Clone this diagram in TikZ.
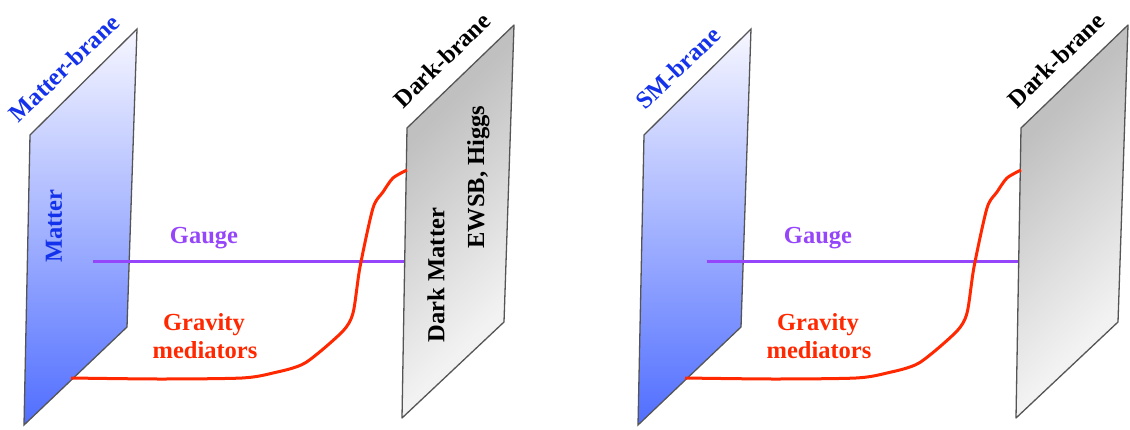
\documentclass[tikz,border=0pt]{standalone}
\usepackage{fontspec}
\setmainfont{Liberation Serif}
\usetikzlibrary{calc}
\definecolor{txtblue}{RGB}{20,50,235}
\definecolor{gaugec}{RGB}{150,70,250}
\definecolor{gravc}{RGB}{255,40,0}
\definecolor{matTop}{RGB}{247,247,255}
\definecolor{matBot}{RGB}{80,110,255}
\definecolor{darkA}{RGB}{192,192,192}
\definecolor{darkB}{RGB}{242,242,242}
\definecolor{edgec}{RGB}{85,85,85}
\pgfdeclareverticalshading{darkshade}{100bp}{color(0bp)=(darkB); color(39bp)=(darkB); color(61bp)=(darkA); color(100bp)=(darkA)}
\tikzset{
  lbl/.style={font=\bfseries\fontsize{24.5}{29}\selectfont, inner sep=0pt},
  matterbrane/.style={top color=matTop, bottom color=matBot, draw=edgec, line width=1.3pt},
  darkfill/.style={shading=darkshade, shading angle=45},
  edge/.style={draw=edgec, line width=1.3pt, line join=round},
  gaugeline/.style={gaugec, line width=3pt},
  gravline/.style={gravc, line width=3pt, line join=round},
}
\begin{document}
\begin{tikzpicture}[x=1pt,y=-1pt]
\useasboundingbox (0,0) rectangle (1130,429);
\foreach \s/\p/\lab/\full in {0/L/Matter-brane/1, 614/R/SM-brane/0}{
\begin{scope}[xshift=\s pt]
  % matter brane
  \coordinate (\p ma) at (30,135);
  \coordinate (\p mb) at (137,29);
  \coordinate (\p mc) at (127,327);
  \coordinate (\p md) at (24,425);
  \path[matterbrane] (\p ma) -- (\p mb) -- (\p mc) -- (\p md) -- cycle;
  % dark brane
  \coordinate (\p da) at (407,128);
  \coordinate (\p db) at (514,25);
  \coordinate (\p dc) at (504,322);
  \coordinate (\p dd) at (402,418);
  \coordinate (\p dctr) at (458,223);
  \begin{scope}
    \clip (\p da) -- (\p db) -- (\p dc) -- (\p dd) -- cycle;
    \shade[darkfill] ($(\p dctr)+(-210,-210)$) rectangle ($(\p dctr)+(210,210)$);
  \end{scope}
  \path[edge] (\p da) -- (\p db) -- (\p dc) -- (\p dd) -- cycle;
  % gauge
  \coordinate (\p g1) at (93,261);
  \coordinate (\p g2) at (404,261);
  \draw[gaugeline] (\p g1) -- (\p g2);
  % gravity
  \coordinate (\p r1) at (71,378);
  \coordinate (\p r2) at (407,170);
  \draw[gravline] plot[smooth, tension=0.45] coordinates {(\p r1) (160,379) (242,378) (273,373) (305,363) (342,332) (353,313) (360,267) (373,208) (383,192) (393,178) (\p r2)};
  % labels
  \node[lbl, text=gaugec, anchor=base] (\p gauge) at (204,243) {Gauge};
  \node[lbl, text=gravc, anchor=base] (\p grav) at (204,330) {Gravity};
  \node[lbl, text=gravc, anchor=base] (\p med) at (205,358) {mediators};
  \node[lbl, text=txtblue, rotate=44] (\p mlab) at (64,68) {\lab};
  \node[lbl, rotate=44] (\p dlab) at (442,60) {Dark-brane};
  \ifnum\full=1
    \node[lbl, text=txtblue, rotate=90] (\p matter) at (54,226) {Matter};
    \node[lbl, rotate=90] (\p dm) at (436,275) {Dark Matter};
    \node[lbl, rotate=90, anchor=north] (\p ew) at (467,177) {EWSB, Higgs};
  \fi
\end{scope}
}
\end{tikzpicture}
\end{document}
